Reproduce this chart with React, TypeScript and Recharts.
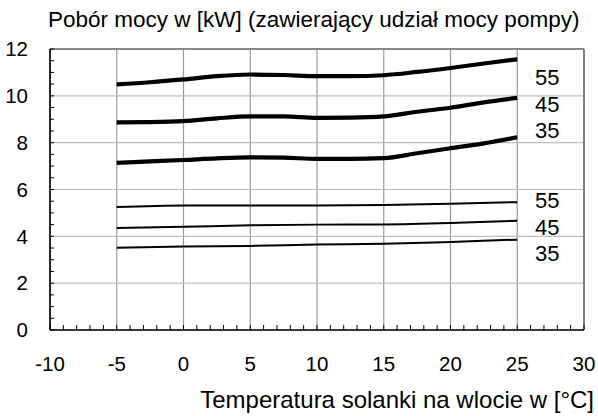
import React from 'react';
import { ComposedChart, Line, Scatter, XAxis, YAxis, CartesianGrid, ReferenceLine } from 'recharts';

// heavy curves (with pump share) - read every 2.5 °C
const xThick = [-5, -2.5, 0, 2.5, 5, 7.5, 10, 12.5, 15, 17.5, 20, 22.5, 25];
const thick55 = [10.49, 10.58, 10.7, 10.84, 10.91, 10.89, 10.84, 10.84, 10.88, 11.02, 11.19, 11.38, 11.56];
const thick45 = [8.87, 8.88, 8.92, 9.04, 9.12, 9.12, 9.06, 9.07, 9.12, 9.32, 9.49, 9.72, 9.91];
const thick35 = [7.14, 7.2, 7.26, 7.33, 7.37, 7.36, 7.31, 7.31, 7.34, 7.55, 7.76, 7.97, 8.23];

// thin curves - read every 5 °C
const xThin = [-5, 0, 5, 10, 15, 20, 25];
const thin55 = [5.25, 5.32, 5.32, 5.32, 5.34, 5.39, 5.46];
const thin45 = [4.36, 4.41, 4.47, 4.5, 4.51, 4.57, 4.67];
const thin35 = [3.51, 3.57, 3.59, 3.65, 3.68, 3.76, 3.86];

// curve labels at the right end
const labelText = ['55', '45', '35', '55', '45', '35'];
const labelX = [26.33, 26.33, 26.33, 26.33, 26.33, 26.33];
const labelY = [10.81, 9.65, 8.52, 5.54, 4.37, 3.29];

const xTicks = [-10, -5, 0, 5, 10, 15, 20, 25, 30];
const yTicks = [0, 2, 4, 6, 8, 10, 12];
const xMinor = Array.from({ length: 41 }, (_, i) => i - 10);
const yMinor = Array.from({ length: 25 }, (_, i) => i * 0.5);

const FONT = '"Liberation Sans", Arial, sans-serif';
const X_MARGIN = 26;
const Y_MARGIN = 22;

const toPoints = (xs: number[], ys: number[]) => xs.map((x, i) => ({ x, y: ys[i] }));

const labels = labelText.map((t, i) => ({ x: labelX[i], y: labelY[i], t }));

const LabelShape = (props: any) => {
  const { cx, cy, payload } = props;
  return (
    <text x={cx} y={cy} dy="0.35em" fontSize={22} fontFamily={FONT} fill="#000" textAnchor="start">
      {payload.t}
    </text>
  );
};

// bottom axis: small inner tick every 1 °C, label every 5 °C
const XTick = (props: any) => {
  const { x, y, payload } = props;
  const axisY = y - X_MARGIN;
  const major = xTicks.includes(payload.value);
  return (
    <g>
      <line x1={x} x2={x} y1={axisY} y2={axisY - 5} stroke="#000" strokeWidth={1} />
      {major && (
        <text x={x} y={y} dy="0.71em" textAnchor="middle" fontSize={20.5} fontFamily={FONT} fill="#000">
          {payload.value}
        </text>
      )}
    </g>
  );
};

// left axis: small inner tick every 0.5, label every 2
const YTick = (props: any) => {
  const { x, y, payload } = props;
  const axisX = x + Y_MARGIN;
  const major = yTicks.includes(payload.value);
  return (
    <g>
      <line x1={axisX} x2={axisX + 4} y1={y} y2={y} stroke="#000" strokeWidth={1} />
      {major && (
        <text x={x} y={y} dy="0.35em" textAnchor="end" fontSize={20.5} fontFamily={FONT} fill="#000">
          {payload.value}
        </text>
      )}
    </g>
  );
};

export default function App() {
  return (
    <div style={{ position: 'absolute', left: 0, top: 0, width: 598, height: 416, background: '#fff', fontFamily: FONT }}>
      <div style={{ position: 'absolute', left: 48, top: 7, fontSize: 22.5, lineHeight: 'normal', color: '#000', whiteSpace: 'nowrap' }}>
        Pobór mocy w [kW] (zawierający udział mocy pompy)
      </div>
      <div style={{ position: 'absolute', right: 4, top: 386, fontSize: 24, lineHeight: 'normal', color: '#000', whiteSpace: 'nowrap' }}>
        Temperatura solanki na wlocie w [°C]
      </div>
      <ComposedChart width={598} height={416} margin={{ top: 49, right: 14, bottom: 46, left: 0 }}>
        <CartesianGrid horizontal={false} verticalValues={xTicks} stroke="#9a9a9a" strokeWidth={1.2} />
        <CartesianGrid vertical={false} horizontalValues={yTicks} stroke="#bdbdbd" strokeWidth={1.2} />
        <ReferenceLine y={12} stroke="#6e6e6e" strokeWidth={1.6} />
        <ReferenceLine x={30} stroke="#6e6e6e" strokeWidth={1.6} />
        <XAxis
          type="number"
          dataKey="x"
          domain={[-10, 30]}
          ticks={xMinor}
          interval={0}
          height={40}
          tickLine={false}
          tickSize={0}
          tickMargin={X_MARGIN}
          axisLine={{ stroke: '#000', strokeWidth: 1.6 }}
          tick={<XTick />}
        />
        <YAxis
          type="number"
          domain={[0, 12]}
          ticks={yMinor}
          interval={0}
          width={50}
          tickLine={false}
          tickSize={0}
          tickMargin={Y_MARGIN}
          axisLine={{ stroke: '#000', strokeWidth: 1.6 }}
          tick={<YTick />}
        />
        <Line data={toPoints(xThick, thick55)} dataKey="y" type="monotone" stroke="#000" strokeWidth={4.2} dot={false} isAnimationActive={false} />
        <Line data={toPoints(xThick, thick45)} dataKey="y" type="monotone" stroke="#000" strokeWidth={4.2} dot={false} isAnimationActive={false} />
        <Line data={toPoints(xThick, thick35)} dataKey="y" type="monotone" stroke="#000" strokeWidth={4.2} dot={false} isAnimationActive={false} />
        <Line data={toPoints(xThin, thin55)} dataKey="y" type="monotone" stroke="#000" strokeWidth={2} dot={false} isAnimationActive={false} />
        <Line data={toPoints(xThin, thin45)} dataKey="y" type="monotone" stroke="#000" strokeWidth={2} dot={false} isAnimationActive={false} />
        <Line data={toPoints(xThin, thin35)} dataKey="y" type="monotone" stroke="#000" strokeWidth={2} dot={false} isAnimationActive={false} />
        <Scatter data={labels} dataKey="y" shape={<LabelShape />} isAnimationActive={false} />
      </ComposedChart>
    </div>
  );
}
